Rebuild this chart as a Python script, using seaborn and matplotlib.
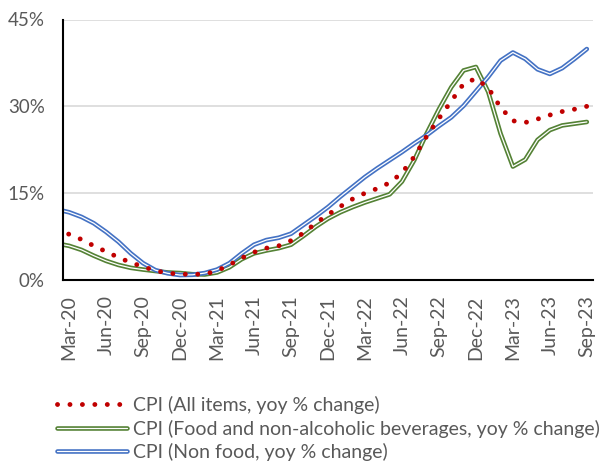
import numpy as np
import pandas as pd
import matplotlib
matplotlib.use("Agg")
import matplotlib.pyplot as plt
import matplotlib.patheffects as pe
import seaborn as sns

# Monthly data, Feb-20 .. Sep-23 (Feb-20 only lies under the left edge, clipped)
months = pd.date_range("2020-02-01", "2023-09-01", freq="MS").strftime("%b-%y").tolist()

cpi_all = [8.6,
           7.9, 7.0, 5.9, 4.9, 3.9, 3.0, 2.3, 1.6, 1.2, 1.0,
           1.0, 1.0, 1.6, 2.6, 3.8, 4.8, 5.5, 5.9, 6.8, 8.1,
           9.8, 11.3, 12.7, 14.0, 15.0, 15.8, 16.8, 18.5, 21.3, 24.8,
           27.9, 30.9, 33.9, 34.8, 33.2, 29.8, 27.5, 27.2, 27.8, 28.5,
           29.1, 29.5, 30.0]
cpi_food = [6.3,
            5.9, 5.2, 4.2, 3.3, 2.6, 2.1, 1.8, 1.55, 1.3, 1.2,
            1.0, 0.95, 1.3, 2.2, 3.6, 4.6, 5.1, 5.5, 6.1, 7.6,
            9.2, 10.6, 11.7, 12.6, 13.4, 14.1, 14.8, 17.0, 20.7, 25.3,
            29.5, 33.3, 36.2, 36.8, 32.5, 25.3, 19.6, 20.8, 24.2, 25.9,
            26.7, 27.0, 27.3]
cpi_nonfood = [12.2,
               11.7, 10.9, 9.8, 8.3, 6.6, 4.6, 2.9, 1.7, 1.15, 0.85,
               0.9, 1.2, 1.8, 2.9, 4.6, 6.1, 6.9, 7.3, 8.0, 9.5,
               11.0, 12.6, 14.4, 16.1, 17.8, 19.3, 20.7, 22.1, 23.6, 25.0,
               26.6, 28.1, 30.1, 32.6, 35.1, 37.9, 39.3, 38.2, 36.4, 35.6,
               36.6, 38.2, 39.9]

labels = ["CPI (All items, yoy % change)",
          "CPI (Food and non-alcoholic beverages, yoy % change)",
          "CPI (Non food, yoy % change)"]
y_ticks = [0, 15, 30, 45]

RED = "#C00000"
GREEN = "#548235"
BLUE = "#4472C4"
GREY = "#595959"

df = pd.DataFrame({"pos": np.arange(len(months)), "month": months,
                   "all": cpi_all, "food": cpi_food, "nonfood": cpi_nonfood})

sns.set_style("white")
plt.rcParams["font.family"] = ["Lato", "DejaVu Sans"]

fig = plt.figure(figsize=(6.02, 4.66), dpi=100)
ax = fig.add_axes([63 / 602, 1 - 280 / 466, 530 / 602, 260.5 / 466])

sns.lineplot(data=df, x="pos", y="food", ax=ax, color="white", lw=0.9,
             path_effects=[pe.Stroke(linewidth=3.3, foreground=GREEN), pe.Normal()],
             label=labels[1], legend=False, zorder=3)
sns.lineplot(data=df, x="pos", y="nonfood", ax=ax, color="white", lw=0.9,
             path_effects=[pe.Stroke(linewidth=3.3, foreground=BLUE), pe.Normal()],
             label=labels[2], legend=False, zorder=3)
sns.lineplot(data=df, x="pos", y="all", ax=ax, color=RED, lw=3.5,
             linestyle=(0, (0.01, 2.55)), dash_capstyle="round",
             label=labels[0], legend=False, zorder=4)

ax.set_xlim(0.5, len(months) - 0.5)
ax.set_ylim(0, 45)
ax.set_xlabel("")
ax.set_ylabel("")

# y axis
ax.set_yticks(y_ticks)
ax.set_yticklabels([f"{v}%" for v in y_ticks])
ax.yaxis.grid(True, color="#D9D9D9", lw=1.2)
ax.tick_params(axis="y", direction="in", length=6, width=1.5, color="black",
               labelsize=13.5, labelcolor=GREY, pad=13)

# x axis: labels every 3 months, tick marks between groups
lab_pos = list(range(1, len(months), 3))
ax.set_xticks(lab_pos)
ax.set_xticklabels([months[i] for i in lab_pos], rotation=90)
ax.set_xticks(np.arange(3.5, len(months), 3), minor=True)
ax.tick_params(axis="x", which="major", length=0, labelsize=14, labelcolor=GREY, pad=11)
ax.tick_params(axis="x", which="minor", direction="in", length=6, width=1.5, color="black")

for side in ["top", "right"]:
    ax.spines[side].set_visible(False)
for side in ["left", "bottom"]:
    ax.spines[side].set_color("black")
    ax.spines[side].set_linewidth(1.5)
ax.spines["left"].set_zorder(5)

lines = {l.get_label(): l for l in ax.get_lines()}
handles = [lines[l] for l in labels]
fig.legend(handles, labels, loc="upper left", bbox_to_anchor=(57 / 602, 1 - 396 / 466),
           frameon=False, fontsize=14, labelcolor=GREY, handlelength=3.6,
           handletextpad=0.32, labelspacing=0.28, borderpad=0, borderaxespad=0)

fig.savefig("out.png", dpi=100)
